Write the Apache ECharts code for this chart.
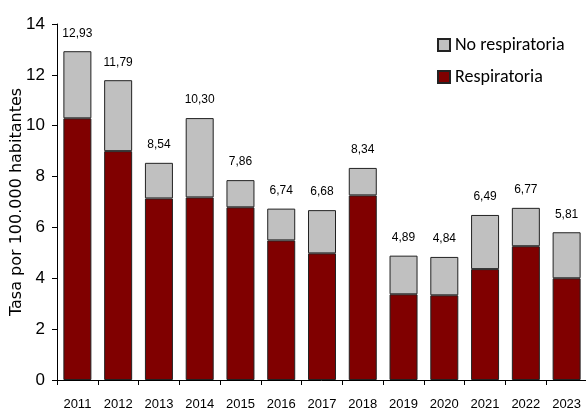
<!DOCTYPE html>
<html><head><meta charset="utf-8">
<script src="https://cdn.jsdelivr.net/npm/echarts@6/dist/echarts.min.js"></script>
<style>html,body{margin:0;padding:0;background:#fff}#c{width:586px;height:409px}</style>
</head><body><div id="c"></div>
<script>
const years = ['2011','2012','2013','2014','2015','2016','2017','2018','2019','2020','2021','2022','2023'];
const respiratoria = [10.29, 9.00, 7.14, 7.18, 6.79, 5.49, 4.98, 7.26, 3.37, 3.33, 4.36, 5.26, 4.00];
const noRespiratoria = [2.64, 2.79, 1.40, 3.12, 1.07, 1.25, 1.70, 1.08, 1.52, 1.51, 2.13, 1.51, 1.81];
const totals = ['12,93','11,79','8,54','10,30','7,86','6,74','6,68','8,34','4,89','4,84','6,49','6,77','5,81'];
const yTicks = [0, 2, 4, 6, 8, 10, 12, 14];

const narrow = '"Liberation Sans Narrow", "Arial Narrow", "Liberation Sans", sans-serif';
const chart = echarts.init(document.getElementById('c'), null, {renderer: 'canvas'});
chart.setOption({
  animation: false,
  backgroundColor: '#fff',
  grid: {left: 57, top: 24, width: 530, bottom: 29, containLabel: false, outerBoundsMode: 'none'},
  legend: {
    orient: 'vertical', left: 432, top: 31, itemWidth: 12, itemHeight: 12, itemGap: 14,
    data: ['No respiratoria', 'Respiratoria'],
    textStyle: {fontFamily: 'Carlito, Lato, sans-serif', fontSize: 18, color: '#000'},
    icon: 'rect'
  },
  xAxis: {
    type: 'category', data: years,
    axisLine: {lineStyle: {color: '#000', width: 1}},
    axisTick: {show: true, length: 5, lineStyle: {color: '#000'}},
    axisLabel: {fontFamily: narrow, fontSize: 13, color: '#000', margin: 18}
  },
  yAxis: {
    type: 'value', min: yTicks[0], max: yTicks[yTicks.length-1], interval: 2,
    name: 'Tasa por 100.000 habitantes', nameLocation: 'middle', nameGap: 32, nameRotate: 90,
    nameMoveOverlap: false,
    nameTextStyle: {fontFamily: '"DejaVu Sans", sans-serif', fontSize: 16, color: '#000'},
    axisLine: {show: true, lineStyle: {color: '#000'}},
    axisTick: {show: true, inside: false, length: 5, lineStyle: {color: '#000'}},
    splitLine: {show: false},
    axisLabel: {fontFamily: narrow, fontSize: 17, color: '#000', margin: 12}
  },
  series: [
    {
      name: 'Respiratoria', type: 'bar', stack: 't', data: respiratoria, barWidth: 28,
      itemStyle: {color: '#800000', borderColor: '#222', borderWidth: 1}
    },
    {
      name: 'No respiratoria', type: 'bar', stack: 't', data: noRespiratoria, barWidth: 28,
      itemStyle: {color: '#c0c0c0', borderColor: '#222', borderWidth: 1},
      label: {
        show: true, position: 'top', distance: 12,
        formatter: p => totals[p.dataIndex],
        fontFamily: narrow, fontSize: 12, color: '#000'
      }
    }
  ]
});
</script></body></html>
